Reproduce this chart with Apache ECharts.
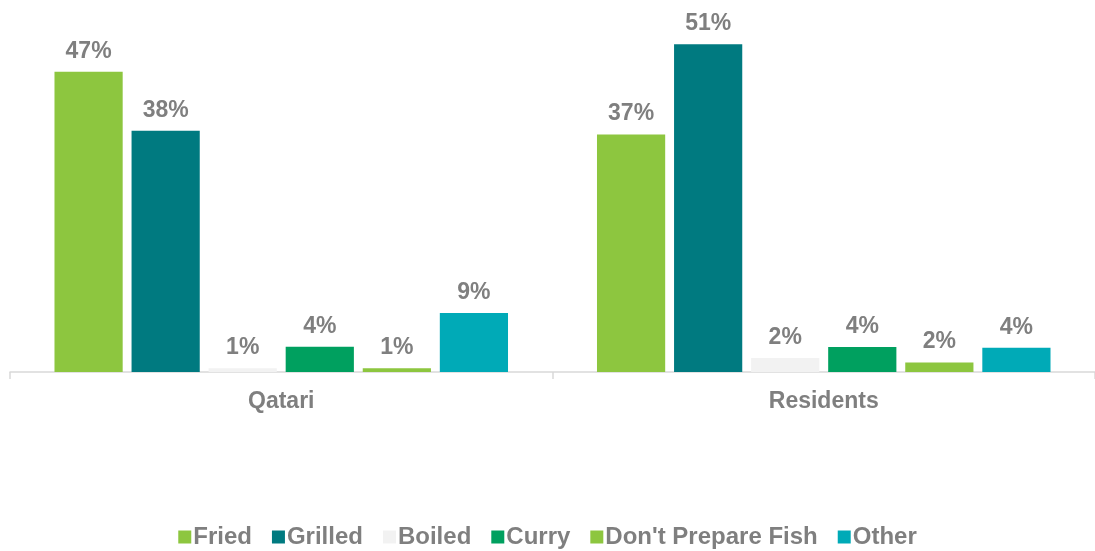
<!DOCTYPE html>
<html>
<head>
<meta charset="utf-8">
<script src="https://cdn.jsdelivr.net/npm/echarts@6/dist/echarts.min.js"></script>
<style>html,body{margin:0;padding:0;background:#fff}#c{width:1095px;height:551px}</style>
</head>
<body>
<div id="c"></div>
<script>
const categories = ['Qatari', 'Residents'];
const seriesNames = ['Fried', 'Grilled', 'Boiled', 'Curry', "Don't Prepare Fish", 'Other'];
const fried = [46.9, 37.1];
const grilled = [37.7, 51.2];
const boiled = [0.6, 2.2];
const curry = [3.95, 3.9];
const dontPrepare = [0.6, 1.5];
const other = [9.2, 3.8];
const seriesValues = [fried, grilled, boiled, curry, dontPrepare, other];
const colors = ['#8DC63F', '#007A80', '#F2F2F2', '#00A05F', '#8DC63F', '#00AAB7'];

const textColor = '#7F7F7F';
const fontFam = '"Liberation Sans", Arial, sans-serif';

const chart = echarts.init(document.getElementById('c'), null, {renderer: 'canvas'});
chart.setOption({
  animation: false,
  color: colors,
  grid: {left: 10, right: -3, top: 20, bottom: 179, containLabel: false},
  legend: {
    bottom: -3,
    left: 'center',
    itemWidth: 13,
    itemHeight: 13,
    itemGap: 20,
    icon: 'rect',
    textStyle: {color: textColor, fontSize: 24, fontWeight: 'bold', fontFamily: fontFam, padding: [0, 0, 0, -3]},
    data: seriesNames
  },
  xAxis: {
    type: 'category',
    data: categories,
    axisLine: {lineStyle: {color: '#D9D9D9', width: 1.5}},
    axisTick: {show: true, alignWithLabel: false, length: 7, lineStyle: {color: '#D9D9D9', width: 1.5}},
    axisLabel: {color: textColor, fontSize: 23, fontWeight: 'bold', fontFamily: fontFam, margin: 18}
  },
  yAxis: {
    type: 'value', min: 0, max: 55,
    show: false,
    splitLine: {show: false}
  },
  series: seriesNames.map((n, i) => ({
    name: n,
    type: 'bar',
    data: seriesValues[i],
    barGap: '13%',
    barCategoryGap: '16.4%',
    itemStyle: {color: colors[i]},
    label: {
      show: true, position: 'top', distance: 9,
      color: textColor, fontSize: 23, fontWeight: 'bold', fontFamily: fontFam,
      formatter: p => Math.round(p.value) + '%'
    }
  }))
});
</script>
</body>
</html>
